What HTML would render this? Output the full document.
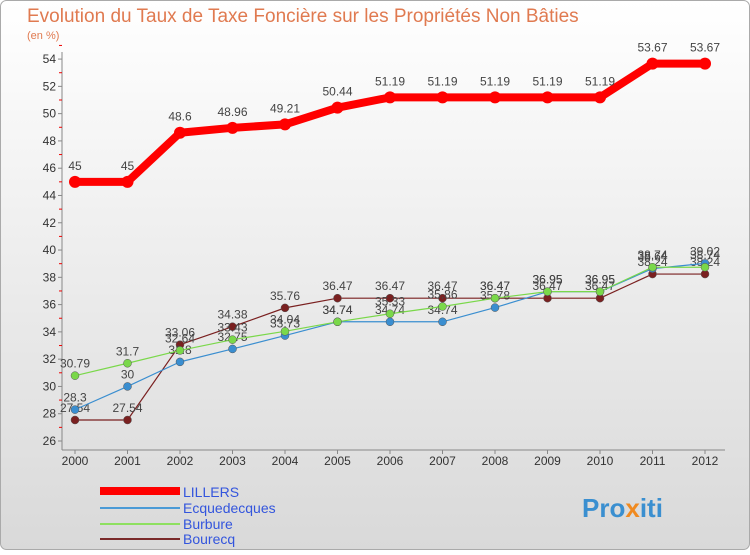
<!DOCTYPE html>
<html><head><meta charset="utf-8"><style>
body{margin:0;width:750px;height:550px;overflow:hidden;font-family:"Liberation Sans",sans-serif}
</style></head><body>
<svg width="750" height="550" xmlns="http://www.w3.org/2000/svg">
<defs><linearGradient id="bg" x1="0" y1="0" x2="0" y2="1"><stop offset="0" stop-color="#ffffff"/><stop offset="1" stop-color="#d9d9d9"/></linearGradient></defs>
<rect x="0.5" y="0.5" width="749" height="549" rx="6" fill="url(#bg)" stroke="#aaa"/>
<text x="27" y="22" font-size="19" fill="#e07a50">Evolution du Taux de Taxe Foncière sur les Propriétés Non Bâties</text>
<text x="27" y="39" font-size="11" fill="#e07a50">(en %)</text>
<g id="axes"></g><g id="series"></g>
<g>
<rect x="100" y="487" width="80" height="8" fill="#f00"/>
<text x="183" y="497" font-size="14" fill="#3355dd">LILLERS</text>
<line x1="100" y1="508" x2="180" y2="508" stroke="#4a9ad6" stroke-width="2"/>
<text x="183" y="513" font-size="14" fill="#3355dd">Ecquedecques</text>
<line x1="100" y1="524" x2="180" y2="524" stroke="#8ee060" stroke-width="2"/>
<text x="183" y="529" font-size="14" fill="#3355dd">Burbure</text>
<line x1="100" y1="539" x2="180" y2="539" stroke="#7a2a2a" stroke-width="2"/>
<text x="183" y="544" font-size="14" fill="#3355dd">Bourecq</text>
</g>
<text x="582" y="517" font-size="26" font-weight="bold" fill="#3a8fd0">Pro<tspan fill="#f08a20">x</tspan>iti</text>
</svg>
<script>
const years=["2000","2001","2002","2003","2004","2005","2006","2007","2008","2009","2010","2011","2012"];
const yTicks=[26,28,30,32,34,36,38,40,42,44,46,48,50,52,54];
const lillers=[45,45,48.6,48.96,49.21,50.44,51.19,51.19,51.19,51.19,51.19,53.67,53.67];
const ecq=[28.3,30,31.8,32.75,33.73,34.74,34.74,34.74,35.78,36.95,36.95,38.64,39.02];
const burbure=[30.79,31.7,32.64,33.43,34.04,34.74,35.33,35.86,36.47,36.95,36.95,38.74,38.74];
const bourecq=[27.54,27.54,33.06,34.38,35.76,36.47,36.47,36.47,36.47,36.47,36.47,38.24,38.24];
const NS="http://www.w3.org/2000/svg";
const X=i=>75+i*52.5, Y=v=>441-(v-26)*13.64;
function mk(t,a,p){const e=document.createElementNS(NS,t);for(const k in a)e.setAttribute(k,a[k]);p.appendChild(e);return e;}
const ax=document.getElementById('axes'), sg=document.getElementById('series');
const yl=mk('line',{x1:62,y1:52,x2:62,y2:450,stroke:'#888'},ax);


const xl=mk('line',{x1:62,y1:450,x2:725,y2:450,stroke:'#888'},ax);


yTicks.forEach(v=>{const t=mk('text',{x:56,y:Y(v)+4,'font-size':12,fill:'#333','text-anchor':'end'},ax);t.textContent=v;


mk('line',{x1:58,y1:Y(v),x2:62,y2:Y(v),stroke:'#888'},ax);
mk('line',{x1:59,y1:Y(v+1),x2:62,y2:Y(v+1),stroke:'#e00'},ax);});
years.forEach((y,i)=>{const t=mk('text',{x:X(i),y:465,'font-size':12,fill:'#333','text-anchor':'middle'},ax);t.textContent=y;


mk('line',{x1:X(i),y1:450,x2:X(i),y2:454,stroke:'#888'},ax);});
function series(d,c,w,r,name,lbl){const g=mk('g',{},sg);


mk('polyline',{points:d.map((v,i)=>X(i)+','+Y(v)).join(' '),fill:'none',stroke:c,'stroke-width':w,'stroke-linejoin':'round'},g);
d.forEach((v,i)=>{const p=mk('circle',{cx:X(i),cy:Y(v),r:r,fill:c,stroke:w>4?c:'#555','stroke-width':w>4?0:0.5},g);


const t=mk('text',{x:X(i),y:Y(v)-lbl,'font-size':12,fill:'#444','text-anchor':'middle'},g);t.textContent=v;

});}
series(bourecq,'#7a2020',1.2,4,'series-bourecq',8);
series(ecq,'#3a8ed0',1.2,4,'series-ecquedecques',8);
series(burbure,'#7ad84a',1.2,4,'series-burbure',8);
series(lillers,'#ff0000',8,6,'series-lillers',12);
</script>
</body></html>
